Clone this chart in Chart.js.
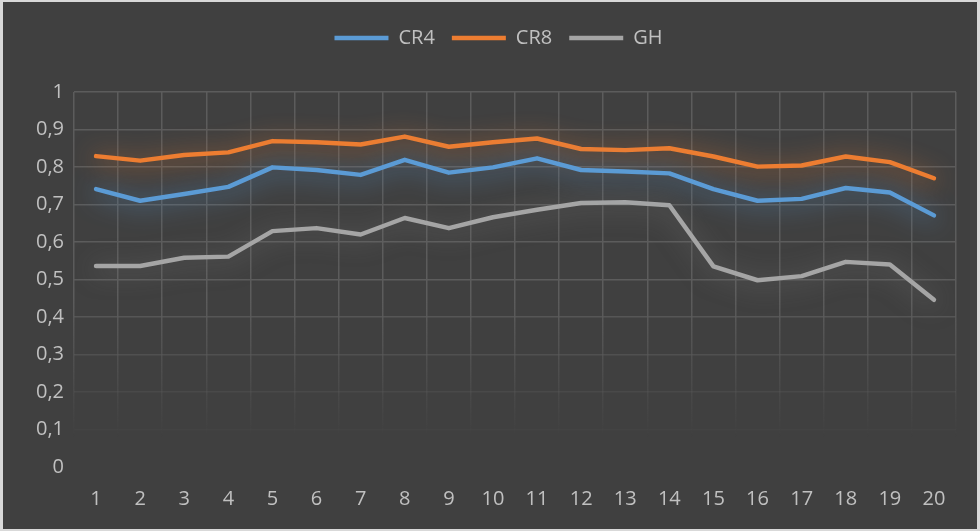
<!DOCTYPE html>
<html>
<head>
<meta charset="utf-8">
<script src="https://cdn.jsdelivr.net/npm/chart.js@4"></script>
<style>
  html, body { margin: 0; padding: 0; background: #d9d9d9; }
  #wrap { position: absolute; left: 3px; top: 2px; width: 974px; height: 527px; background: #404040; }
</style>
</head>
<body>
<div id="wrap"><canvas id="chart"></canvas></div>
<script>
/* ---------- DATA ---------- */

const categories = ["1", "2", "3", "4", "5", "6", "7", "8", "9", "10",
  "11", "12", "13", "14", "15", "16", "17", "18", "19", "20"];

const cr4 = [0.741, 0.710, 0.728, 0.747, 0.799, 0.792, 0.779, 0.819, 0.785, 0.799,
  0.823, 0.792, 0.788, 0.783, 0.741, 0.710, 0.715, 0.744, 0.732, 0.671];

const cr8 = [0.829, 0.817, 0.832, 0.839, 0.869, 0.866, 0.860, 0.881, 0.854, 0.866,
  0.876, 0.848, 0.845, 0.850, 0.828, 0.801, 0.804, 0.828, 0.813, 0.770];

const gh = [0.536, 0.536, 0.558, 0.561, 0.629, 0.637, 0.620, 0.664, 0.637, 0.666,
  0.686, 0.704, 0.706, 0.698, 0.535, 0.498, 0.509, 0.547, 0.540, 0.446];

const yTickLabels = ["0", "0,1", "0,2", "0,3", "0,4", "0,5", "0,6", "0,7", "0,8", "0,9", "1"];

/* ---------- STYLE HELPERS ---------- */

const TEXT = "#c0c0c0";
const FONT = { family: "'Open Sans', 'Noto Sans', sans-serif", size: 20 };

function series(label, data, color, glow) {
  return {
    label,
    data,
    borderColor: color,
    backgroundColor: color,
    borderWidth: 4.5,
    borderCapStyle: "round",
    borderJoinStyle: "round",
    pointRadius: 0,
    tension: 0,
    glow
  };
}

// soft glow behind each line
const glowPlugin = {
  id: "glow",
  beforeDatasetDraw(chart, args) {
    const ds = chart.data.datasets[args.index];
    chart.ctx.save();
    chart.ctx.shadowColor = ds.glow;
    chart.ctx.shadowBlur = 24;
    chart.ctx.shadowOffsetY = 3;
  },
  afterDatasetDraw(chart) {
    chart.ctx.restore();
  }
};

// extra room under the legend, legend nudged right like the original
const legendTweak = {
  id: "legendTweak",
  afterInit(chart) {
    const fit = chart.legend.fit;
    chart.legend.fit = function () {
      fit.call(this);
      this.height += 34;
    };
  },
  afterLayout(chart) {
    chart.legend.left += 19;
    chart.legend.right += 19;
  }
};

function vGridGradient(ctx) {
  const chart = ctx.chart;
  const area = chart.chartArea;
  if (!area) return "rgba(92,92,92,1)";
  const g = chart.ctx.createLinearGradient(0, area.top, 0, area.bottom);
  g.addColorStop(0, "rgba(92,92,92,1)");
  g.addColorStop(0.55, "rgba(92,92,92,1)");
  g.addColorStop(0.92, "rgba(92,92,92,0)");
  g.addColorStop(1, "rgba(92,92,92,0)");
  return g;
}

function hGridColor(ctx) {
  const v = ctx.tick ? ctx.tick.value : 1;
  const a = v >= 0.5 ? 1 : Math.max(0, (v - 0.05) / 0.45);
  return "rgba(92,92,92," + a.toFixed(2) + ")";
}

/* ---------- INIT ---------- */

new Chart(document.getElementById("chart").getContext("2d"), {
  type: "line",
  data: {
    labels: categories,
    datasets: [
      series("CR4", cr4, "#5b9bd5", "rgba(91,155,213,0.9)"),
      series("CR8", cr8, "#ed7d31", "rgba(237,125,49,0.9)"),
      series("GH", gh, "#a5a5a5", "rgba(140,140,140,0.6)")
    ]
  },
  options: {
    responsive: true,
    maintainAspectRatio: false,
    animation: false,
    layout: { padding: { top: 9, right: 21, bottom: 0, left: 0 } },
    plugins: {
      legend: {
        position: "top",
        labels: {
          color: TEXT,
          font: FONT,
          usePointStyle: true,
          pointStyle: "line",
          pointStyleWidth: 54,
          padding: 17
        }
      },
      tooltip: { enabled: false }
    },
    scales: {
      x: {
        offset: true,
        border: { display: false },
        grid: { color: vGridGradient, lineWidth: 1.5, drawTicks: false, offset: true },
        ticks: { color: TEXT, font: FONT, padding: 20, maxRotation: 0, autoSkip: false },
        afterFit(scale) { scale.height = 62; }
      },
      y: {
        min: 0,
        max: 1,
        border: { display: false },
        grid: { color: hGridColor, lineWidth: 1.5, drawTicks: false },
        ticks: {
          stepSize: 0.1,
          color: TEXT,
          font: FONT,
          padding: 10,
          callback: (v, i) => yTickLabels[i]
        },
        afterFit(scale) { scale.width = 71; }
      }
    }
  },
  plugins: [glowPlugin, legendTweak]
});
</script>
</body>
</html>
